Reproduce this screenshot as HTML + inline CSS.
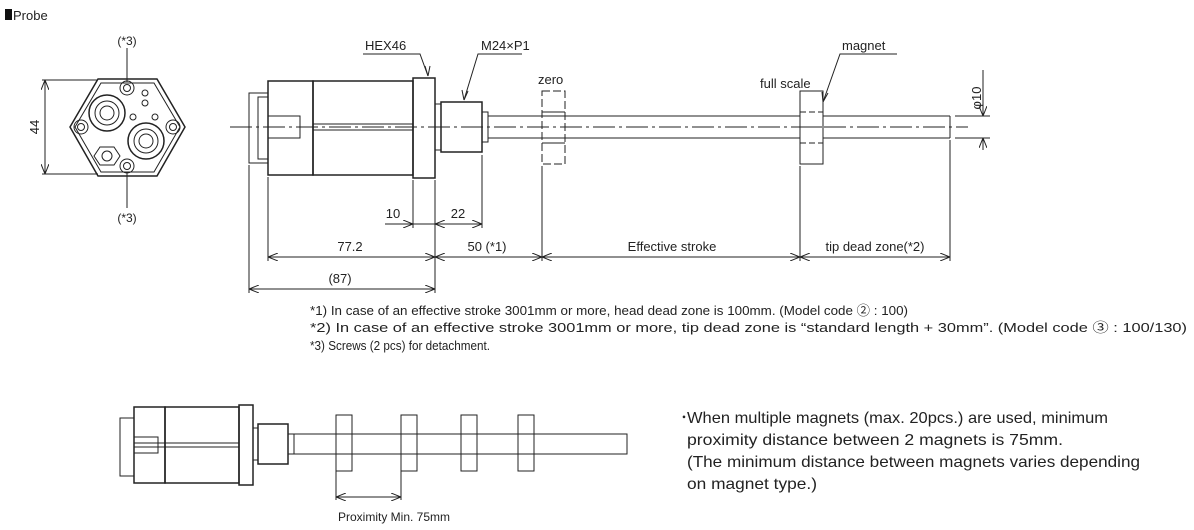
<!DOCTYPE html>
<html><head><meta charset="utf-8"><style>
html,body{margin:0;padding:0;background:#fff}
svg{display:block}
text{font-family:"Liberation Sans","Noto Sans CJK JP",sans-serif;fill:#222}
</style></head><body>
<svg width="1194" height="530" viewBox="0 0 1194 530" xmlns="http://www.w3.org/2000/svg">
<defs>
<marker id="a" markerWidth="10" markerHeight="8" refX="10" refY="4" orient="auto-start-reverse" markerUnits="userSpaceOnUse"><path d="M0,0 L10,4 L0,8" fill="none" stroke="#222" stroke-width="1"/></marker>
</defs>
<rect x="5" y="9" width="7" height="11" fill="#111"/>
<text x="13" y="20" font-size="13">Probe</text>

<!-- end view -->
<g stroke="#222" fill="none" stroke-width="1">
<polygon points="98,79 157,79 185,127 157,176 98,176 70,127" stroke-width="1.5"/>
<polygon points="101,83 154,83 180,127 154,172 101,172 75,127"/>
<line x1="45" y1="80" x2="45" y2="174" marker-start="url(#a)" marker-end="url(#a)"/>
<line x1="42" y1="80" x2="98" y2="80"/><line x1="42" y1="174" x2="98" y2="174"/>
<line x1="127" y1="48" x2="127" y2="82"/><line x1="127" y1="172" x2="127" y2="208"/>
<circle cx="127" cy="88" r="7"/><circle cx="127" cy="88" r="3.5"/>
<circle cx="127" cy="166" r="7"/><circle cx="127" cy="166" r="3.5"/>
<circle cx="81" cy="127" r="7"/><circle cx="81" cy="127" r="3.5"/>
<circle cx="173" cy="127" r="7"/><circle cx="173" cy="127" r="3.5"/>
<circle cx="107" cy="113" r="18" stroke-width="1.5"/><circle cx="107" cy="113" r="12"/><circle cx="107" cy="113" r="7"/>
<circle cx="146" cy="141" r="18" stroke-width="1.5"/><circle cx="146" cy="141" r="12"/><circle cx="146" cy="141" r="7"/>
<polygon points="100,147 114,147 120,156 114,165 100,165 94,156"/><circle cx="107" cy="156" r="5"/>
<circle cx="145" cy="93" r="3"/><circle cx="145" cy="103" r="3"/><circle cx="133" cy="117" r="3"/><circle cx="155" cy="117" r="3"/>
</g>
<text x="127" y="45" font-size="12" text-anchor="middle">(*3)</text>
<text x="127" y="222" font-size="12" text-anchor="middle">(*3)</text>
<text x="0" y="0" font-size="13" text-anchor="middle" transform="translate(39,127) rotate(-90)">44</text>

<!-- side view -->
<g stroke="#222" fill="none" stroke-width="1">
<rect x="249" y="93" width="19" height="70"/>
<rect x="258" y="97" width="10" height="62"/>
<rect x="268" y="81" width="45" height="94" stroke-width="1.5"/>
<rect x="313" y="81" width="100" height="94" stroke-width="1.5"/>
<line x1="313" y1="124" x2="413" y2="124"/><line x1="313" y1="130" x2="413" y2="130"/>
<rect x="268" y="116" width="32" height="22"/>
<rect x="413" y="78" width="22" height="100" stroke-width="1.5"/>
<rect x="435" y="104" width="6" height="46"/>
<rect x="441" y="102" width="41" height="50" stroke-width="1.5"/>
<rect x="482" y="112" width="6" height="30"/>
<line x1="488" y1="116" x2="950" y2="116"/><line x1="488" y1="138" x2="950" y2="138"/>
<line x1="950" y1="116" x2="950" y2="138"/>
<line x1="230" y1="127" x2="968" y2="127" stroke-dasharray="22,4,3,4"/>
<rect x="542" y="91" width="23" height="73" stroke-dasharray="8,3"/>
<line x1="542" y1="112" x2="565" y2="112"/><line x1="542" y1="143" x2="565" y2="143"/>
<rect x="800" y="91" width="23" height="73" fill="#fff"/>
<line x1="800" y1="112" x2="823" y2="112" stroke-dasharray="6,3"/><line x1="800" y1="143" x2="823" y2="143" stroke-dasharray="6,3"/>
<line x1="800" y1="127" x2="823" y2="127" stroke-dasharray="22,4,3,4"/>
<polyline points="363,54 420,54 428,76" />
<line x1="428" y1="76" x2="425" y2="66"/><line x1="428" y1="76" x2="430" y2="66"/>
<polyline points="522,54 478,54 464,100"/><line x1="464" y1="100" x2="462" y2="90"/><line x1="464" y1="100" x2="468" y2="91"/>
<polyline points="897,54 840,54 823,102"/><line x1="823" y1="102" x2="822" y2="92"/><line x1="823" y1="102" x2="828" y2="93"/>
<line x1="955" y1="116" x2="990" y2="116"/><line x1="955" y1="138" x2="990" y2="138"/>
<line x1="983" y1="70" x2="983" y2="116" marker-end="url(#a)"/>
<line x1="983" y1="150" x2="983" y2="138" marker-end="url(#a)"/>
<line x1="249" y1="165" x2="249" y2="293"/>
<line x1="268" y1="177" x2="268" y2="261"/>
<line x1="413" y1="180" x2="413" y2="228"/>
<line x1="435" y1="180" x2="435" y2="293"/>
<line x1="482" y1="155" x2="482" y2="228"/>
<line x1="542" y1="166" x2="542" y2="261"/>
<line x1="800" y1="166" x2="800" y2="261"/>
<line x1="950" y1="140" x2="950" y2="261"/>
<line x1="385" y1="224" x2="413" y2="224" marker-end="url(#a)"/>
<line x1="413" y1="224" x2="435" y2="224"/>
<line x1="435" y1="224" x2="482" y2="224" marker-start="url(#a)" marker-end="url(#a)"/>
<line x1="268" y1="257" x2="435" y2="257" marker-start="url(#a)" marker-end="url(#a)"/>
<line x1="435" y1="257" x2="542" y2="257" marker-start="url(#a)" marker-end="url(#a)"/>
<line x1="542" y1="257" x2="800" y2="257" marker-start="url(#a)" marker-end="url(#a)"/>
<line x1="800" y1="257" x2="950" y2="257" marker-start="url(#a)" marker-end="url(#a)"/>
<line x1="249" y1="289" x2="435" y2="289" marker-start="url(#a)" marker-end="url(#a)"/>
</g>
<g font-size="13">
<text x="365" y="50">HEX46</text>
<text x="481" y="50">M24×P1</text>
<text x="538" y="84">zero</text>
<text x="760" y="88">full scale</text>
<text x="842" y="50">magnet</text>
<text x="0" y="0" text-anchor="middle" transform="translate(981,98) rotate(-90)">φ10</text>
<text x="393" y="218" text-anchor="middle">10</text>
<text x="458" y="218" text-anchor="middle">22</text>
<text x="350" y="251" text-anchor="middle">77.2</text>
<text x="487" y="251" text-anchor="middle">50 (*1)</text>
<text x="672" y="251" text-anchor="middle">Effective stroke</text>
<text x="875" y="251" text-anchor="middle">tip dead zone(*2)</text>
<text x="340" y="283" text-anchor="middle">(87)</text>
</g>

<text x="310" y="315" font-size="13" textLength="598" lengthAdjust="spacingAndGlyphs">*1) In case of an effective stroke 3001mm or more, head dead zone is 100mm. (Model code ② : 100)</text>
<text x="310" y="332" font-size="13" textLength="877" lengthAdjust="spacingAndGlyphs">*2) In case of an effective stroke 3001mm or more, tip dead zone is “standard length + 30mm”. (Model code ③ : 100/130)</text>
<text x="310" y="350" font-size="13" textLength="180" lengthAdjust="spacingAndGlyphs">*3) Screws (2 pcs) for detachment.</text>

<!-- bottom figure -->
<g stroke="#222" fill="none" stroke-width="1">
<rect x="120" y="418" width="14" height="58"/>
<rect x="134" y="407" width="31" height="76" stroke-width="1.5"/>
<rect x="165" y="407" width="74" height="76" stroke-width="1.5"/>
<line x1="134" y1="443" x2="239" y2="443"/><line x1="134" y1="447" x2="239" y2="447"/>
<rect x="134" y="437" width="24" height="16"/>
<rect x="239" y="405" width="14" height="80" stroke-width="1.5"/>
<rect x="258" y="424" width="30" height="40" stroke-width="1.5"/>
<rect x="253" y="428" width="5" height="32"/>
<rect x="288" y="434" width="6" height="20"/>
<rect x="294" y="434" width="333" height="20"/>
<rect x="336" y="415" width="16" height="56" fill="#fff"/><line x1="336" y1="434" x2="352" y2="434"/><line x1="336" y1="454" x2="352" y2="454"/>
<rect x="401" y="415" width="16" height="56" fill="#fff"/><line x1="401" y1="434" x2="417" y2="434"/><line x1="401" y1="454" x2="417" y2="454"/>
<rect x="461" y="415" width="16" height="56" fill="#fff"/><line x1="461" y1="434" x2="477" y2="434"/><line x1="461" y1="454" x2="477" y2="454"/>
<rect x="518" y="415" width="16" height="56" fill="#fff"/><line x1="518" y1="434" x2="534" y2="434"/><line x1="518" y1="454" x2="534" y2="454"/>
<line x1="336" y1="471" x2="336" y2="500"/><line x1="401" y1="471" x2="401" y2="500"/>
<line x1="336" y1="497" x2="401" y2="497" marker-start="url(#a)" marker-end="url(#a)"/>
</g>
<text x="338" y="521" font-size="12">Proximity Min. 75mm</text>

<g font-size="16">
<text x="680" y="423">･</text>
<text x="687" y="423" textLength="421" lengthAdjust="spacingAndGlyphs">When multiple magnets (max. 20pcs.) are used, minimum</text>
<text x="687" y="445" textLength="376" lengthAdjust="spacingAndGlyphs">proximity distance between 2 magnets is 75mm.</text>
<text x="687" y="467" textLength="453" lengthAdjust="spacingAndGlyphs">(The minimum distance between magnets varies depending</text>
<text x="687" y="489" textLength="130" lengthAdjust="spacingAndGlyphs">on magnet type.)</text>
</g>
</svg>
</body></html>
